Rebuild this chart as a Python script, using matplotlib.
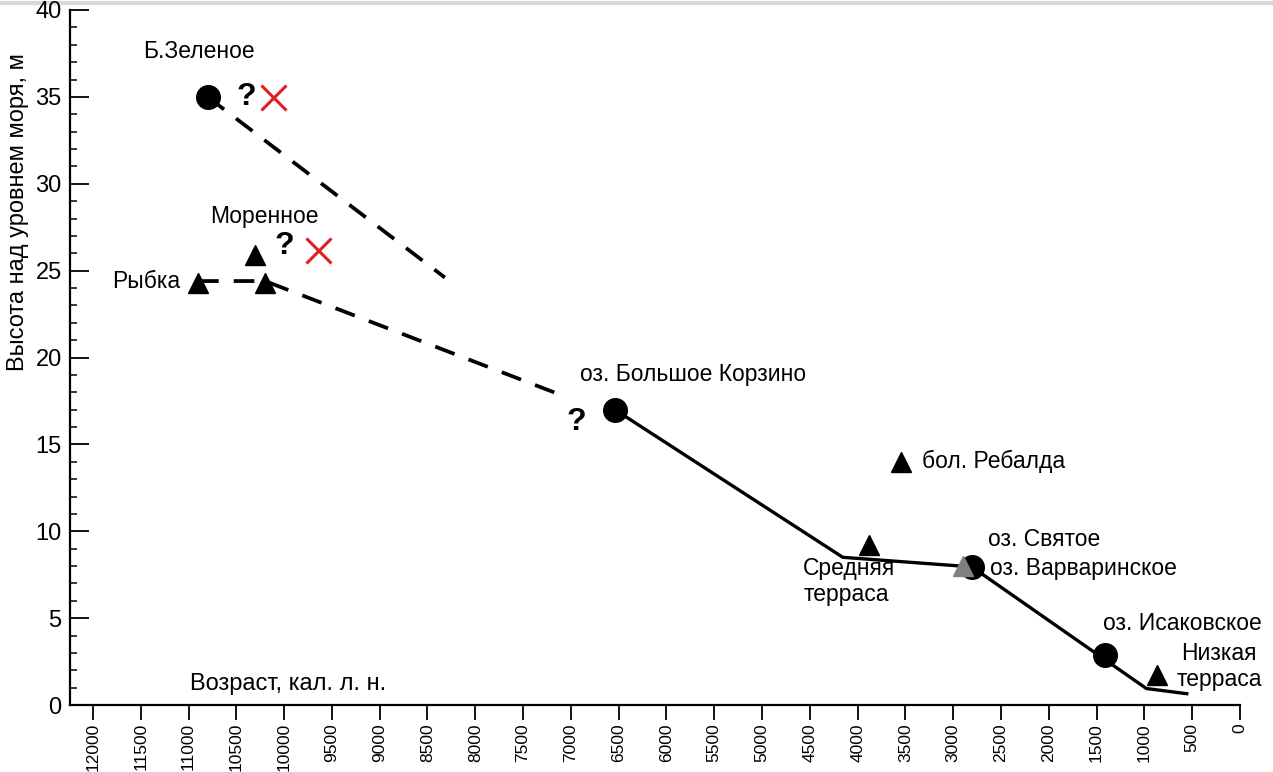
import matplotlib
matplotlib.use("Agg")
import matplotlib.pyplot as plt
from matplotlib.lines import Line2D

plt.rcParams["font.family"] = ["Liberation Sans", "DejaVu Sans"]

# Возраст (кал. л. н.) и высота (м) по объектам
lake_age = [10800, 6540, 2805, 1410]
lake_h = [35.0, 17.0, 7.95, 2.9]

terrace_age = [10900, 10200, 10300, 3880, 3550, 870]
terrace_h = [24.3, 24.3, 25.9, 9.2, 14.0, 1.7]

gray_age = [2900]
gray_h = [8.0]

# Реконструированный ход уровня
solid_age = [6540, 4155, 2805, 980, 557]
solid_h = [17.0, 8.5, 7.95, 0.95, 0.65]

dash1_age = [10800, 8318]
dash1_h = [35.0, 24.6]
dash2_age = [10900, 10200, 7060]
dash2_h = [24.4, 24.4, 17.75]

cross_age = [10120, 9650]
cross_h = [35.0, 26.2]

quest_age = [10400, 10000, 6940]
quest_h = [35.0, 26.4, 16.3]

labels = [
    ("Б.Зеленое", 11470, 37.6, "left"),
    ("Моренное", 10770, 28.1, "left"),
    ("Рыбка", 11090, 24.4, "right"),
    ("оз. Большое Корзино", 6900, 19.0, "left"),
    ("бол. Ребалда", 3330, 14.0, "left"),
    ("оз. Святое", 2640, 9.5, "left"),
    ("оз. Варваринское", 2620, 7.85, "left"),
    ("Средняя\nтерраса", 4570, 7.1, "left"),
    ("оз. Исаковское", 1430, 4.7, "left"),
    ("Низкая\nтерраса", 220, 2.2, "center"),
]

fig = plt.figure(figsize=(12.73, 7.72), dpi=100)
ax = fig.add_axes([70 / 1273, 1 - 705 / 772, 1170 / 1273, 695 / 772])

ax.plot(solid_age, solid_h, color="black", lw=2.4, zorder=2)
ax.plot(dash1_age, dash1_h, color="black", lw=2.7, dashes=(5.5, 4), zorder=2)
ax.plot(dash2_age, dash2_h, color="black", lw=2.7, dashes=(5.5, 4), zorder=2)

ax.plot(lake_age, lake_h, "o", color="black", ms=17, zorder=3)
ax.plot(gray_age, gray_h, "^", color="#808080", ms=15, zorder=3)
ax.plot(terrace_age, terrace_h, "^", color="black", ms=15, zorder=4)
ax.plot(cross_age, cross_h, "x", color="#e02020", ms=18, mew=2.2, zorder=3)

for a, h in zip(quest_age, quest_h):
    ax.text(a, h, "?", fontsize=23, fontweight="bold", ha="center", va="center")

for txt, a, h, al in labels:
    ax.text(a, h, txt, fontsize=16.5, ha=al, va="center", linespacing=1.15,
            clip_on=False)

ax.text(10980, 1.2, "Возраст, кал. л. н.", fontsize=17, ha="left", va="center")
fig.text(18 / 1273, 1 - 212 / 772, "Высота над уровнем моря, м", fontsize=17,
         rotation=90, ha="center", va="center")

ax.set_xlim(12240, 0)
ax.set_ylim(0, 40)
ax.set_xticks(range(0, 12001, 500))
ax.set_yticks(range(0, 41, 5))
ax.set_yticks(range(0, 41, 1), minor=True)
ax.tick_params(axis="x", direction="out", length=11, width=1.3, labelsize=12.5,
               labelrotation=90, pad=2)
ax.tick_params(axis="y", which="major", direction="in", length=14, width=1.3,
               labelsize=17, pad=6)
ax.tick_params(axis="y", which="minor", direction="in", length=5, width=1.1)
for s in ["top", "right"]:
    ax.spines[s].set_visible(False)
for s in ["left", "bottom"]:
    ax.spines[s].set_linewidth(1.6)

fig.add_artist(Line2D([0, 1], [1 - 3 / 772, 1 - 3 / 772], color="#d8d8d8",
                      lw=3, zorder=-1))

fig.savefig("out.png", dpi=100)
